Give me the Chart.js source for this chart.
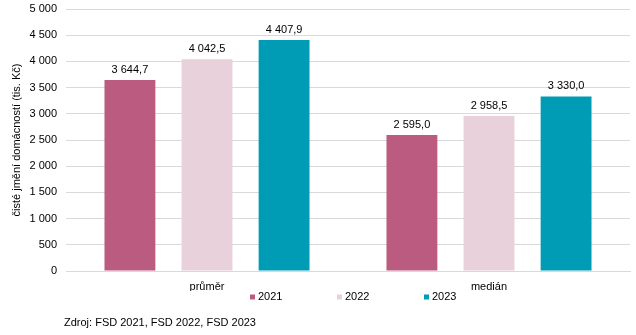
<!DOCTYPE html>
<html>
<head>
<meta charset="utf-8">
<script src="https://cdn.jsdelivr.net/npm/chart.js@4"></script>
<style>
  html, body { margin: 0; padding: 0; background: #fff; }
  #wrap { width: 636px; height: 335px; }
</style>
</head>
<body>
<div id="wrap"><canvas id="chart" width="636" height="335"></canvas></div>
<script>
// data
const categories = ["průměr", "medián"];
const years = ["2021", "2022", "2023"];
const values2021 = [3644.7, 2595.0];
const values2022 = [4042.5, 2958.5];
const values2023 = [4407.9, 3330.0];
const colors = ["#BB5B80", "#E8D1DA", "#009CB5"];
const yTitle = "čisté jmění domácností (tis. Kč)";
const source = "Zdroj: FSD 2021, FSD 2022, FSD 2023";

const FONT = "Arial, 'Liberation Sans', sans-serif";

function fmtThousands(n) {
  return String(n).replace(/\B(?=(\d{3})+(?!\d))/g, " ");
}
function fmtValue(v) {
  const parts = v.toFixed(1).split(".");
  return fmtThousands(parts[0]) + "," + parts[1];
}

// popisky hodnot nad sloupci
const valueLabels = {
  id: "valueLabels",
  afterDatasetsDraw(chart) {
    const ctx = chart.ctx;
    ctx.save();
    ctx.font = "11px " + FONT;
    ctx.fillStyle = "#000";
    ctx.textAlign = "center";
    ctx.textBaseline = "bottom";
    chart.data.datasets.forEach((ds, i) => {
      chart.getDatasetMeta(i).data.forEach((bar, j) => {
        ctx.fillText(fmtValue(ds.data[j]), bar.x, bar.y - 5);
      });
    });
    ctx.restore();
  }
};

// legenda + zdroj
const bottomTexts = {
  id: "bottomTexts",
  afterDraw(chart) {
    const ctx = chart.ctx;
    const legendX = [250, 337, 424];
    const legendY = 297;
    ctx.save();
    ctx.font = "11px " + FONT;
    ctx.textBaseline = "middle";
    ctx.textAlign = "left";
    chart.data.datasets.forEach((ds, i) => {
      ctx.fillStyle = ds.backgroundColor;
      ctx.fillRect(legendX[i], legendY - 2.5, 5, 5);
      ctx.fillStyle = "#000";
      ctx.fillText(ds.label, legendX[i] + 8, legendY);
    });
    ctx.fillText(source, 64, 323);
    ctx.restore();
  }
};

new Chart(document.getElementById("chart"), {
  type: "bar",
  data: {
    labels: categories,
    datasets: [
      { label: years[0], data: values2021, backgroundColor: colors[0] },
      { label: years[1], data: values2022, backgroundColor: colors[1] },
      { label: years[2], data: values2023, backgroundColor: colors[2] }
    ]
  },
  options: {
    responsive: false,
    animation: false,
    devicePixelRatio: 1,
    layout: { autoPadding: false, padding: { top: 9, right: 6, bottom: 44, left: 0 } },
    datasets: {
      bar: { barPercentage: 0.66, categoryPercentage: 0.82 }
    },
    plugins: {
      legend: { display: false },
      tooltip: { enabled: false }
    },
    scales: {
      x: {
        grid: { display: false, drawTicks: false },
        border: { display: true, color: "#D9D9D9" },
        ticks: { color: "#000", font: { family: FONT, size: 11 }, padding: 9 },
        afterFit(s) { s.height = 20; }
      },
      y: {
        min: 0,
        max: 5000,
        grid: { color: "#D9D9D9", drawTicks: false },
        border: { display: false },
        ticks: {
          stepSize: 500,
          color: "#000",
          font: { family: FONT, size: 11 },
          padding: 9,
          callback: (v) => fmtThousands(v)
        },
        title: {
          display: true,
          text: yTitle,
          color: "#000",
          font: { family: FONT, size: 11 },
          padding: { top: 10, bottom: 0 }
        },
        afterFit(s) {
          s.width = 66;
          s.paddingTop = 0;
          s.paddingBottom = 0;
        }
      }
    }
  },
  plugins: [valueLabels, bottomTexts]
});
</script>
</body>
</html>
